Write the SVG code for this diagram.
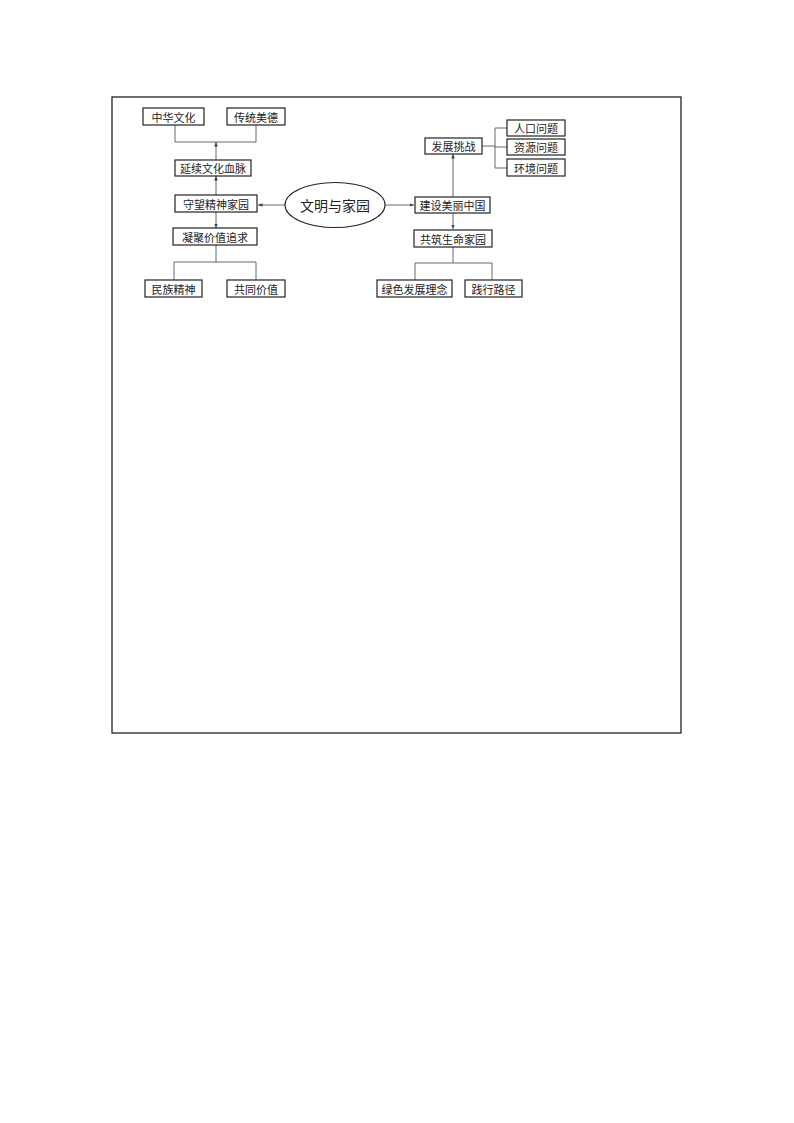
<svg xmlns="http://www.w3.org/2000/svg" width="794" height="1123" viewBox="0 0 794 1123">
<style>
.box{fill:#fff;stroke:#222;stroke-width:1.2}
.t{font-family:"Noto Sans CJK SC","Noto Sans CJK JP",sans-serif;font-size:11px;fill:#222;text-anchor:middle;dominant-baseline:central}
.c{fill:none;stroke:#556;stroke-width:0.9}
</style>
<defs>
<marker id="ah" viewBox="0 0 10 10" refX="10" refY="5" markerWidth="5" markerHeight="5" orient="auto"><path d="M0,1 L10,5 L0,9 z" fill="#345"/></marker>
</defs>
<rect x="0" y="0" width="794" height="1123" fill="#fff"/>
<rect x="112" y="97" width="569" height="636" fill="none" stroke="#222" stroke-width="1.3"/>
<g id="connectors">
<path class="c" d="M175,125 V142 H256 V125"/>
<path class="c" d="M216,160 V142" marker-end="url(#ah)"/>
<path class="c" d="M216,195 V176" marker-end="url(#ah)"/>
<path class="c" d="M216,212 V228" marker-end="url(#ah)"/>
<path class="c" d="M216,245 V262 M174,280 V262 H256 V280"/>
<path class="c" d="M285,205 H258" marker-end="url(#ah)"/>
<path class="c" d="M385,205 H414" marker-end="url(#ah)"/>
<path class="c" d="M453,197 V154" marker-end="url(#ah)"/>
<path class="c" d="M482,146 H495 M507,128 H495 V168 H507 M495,147 H507"/>
<path class="c" d="M453,213 V229" marker-end="url(#ah)"/>
<path class="c" d="M453,247 V263 M415,280 V263 H492 V280"/>
</g>
<g id="n_zhonghua"><rect class="box" x="143" y="108" width="61" height="17"/><text class="t" x="173.5" y="116.5">中华文化</text></g>
<g id="n_chuantong"><rect class="box" x="227" y="108" width="58" height="17"/><text class="t" x="256" y="116.5">传统美德</text></g>
<g id="n_yanxu"><rect class="box" x="175" y="160" width="76" height="16"/><text class="t" x="213" y="168">延续文化血脉</text></g>
<g id="n_shouwang"><rect class="box" x="175" y="195" width="82" height="17"/><text class="t" x="216" y="203.5">守望精神家园</text></g>
<g id="n_ningju"><rect class="box" x="173" y="228" width="84" height="17"/><text class="t" x="215" y="236.5">凝聚价值追求</text></g>
<g id="n_minzu"><rect class="box" x="145" y="280" width="57" height="17"/><text class="t" x="173.5" y="288.5">民族精神</text></g>
<g id="n_gongtong"><rect class="box" x="227" y="280" width="58" height="17"/><text class="t" x="256" y="288.5">共同价值</text></g>
<g id="n_center"><ellipse cx="335" cy="205" rx="50" ry="22.5" fill="#fff" stroke="#222" stroke-width="1.1"/><text class="t" x="335" y="205" style="font-size:14px">文明与家园</text></g>
<g id="n_jianshe"><rect class="box" x="415" y="197" width="75" height="16"/><text class="t" x="452.5" y="205">建设美丽中国</text></g>
<g id="n_fazhan"><rect class="box" x="425" y="138" width="57" height="16"/><text class="t" x="453.5" y="146">发展挑战</text></g>
<g id="n_renkou"><rect class="box" x="507" y="120" width="58" height="16"/><text class="t" x="536" y="128">人口问题</text></g>
<g id="n_ziyuan"><rect class="box" x="507" y="139" width="58" height="16"/><text class="t" x="536" y="147">资源问题</text></g>
<g id="n_huanjing"><rect class="box" x="507" y="159" width="58" height="17"/><text class="t" x="536" y="167.5">环境问题</text></g>
<g id="n_gongzhu"><rect class="box" x="414" y="230" width="78" height="17"/><text class="t" x="453" y="238.5">共筑生命家园</text></g>
<g id="n_lvse"><rect class="box" x="377" y="280" width="75" height="17"/><text class="t" x="414.5" y="288.5">绿色发展理念</text></g>
<g id="n_jianxing"><rect class="box" x="465" y="280" width="57" height="17"/><text class="t" x="493.5" y="288.5">践行路径</text></g>
</svg>
